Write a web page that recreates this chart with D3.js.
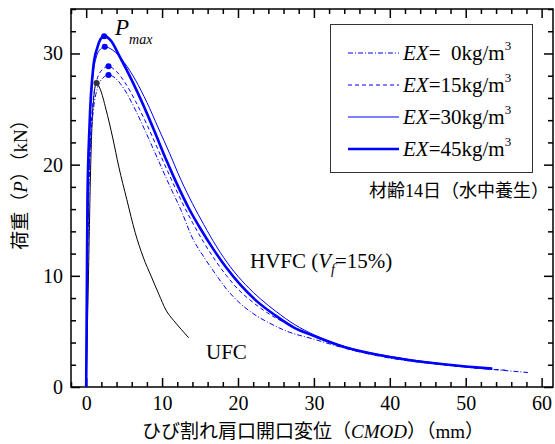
<!DOCTYPE html>
<html>
<head>
<meta charset="utf-8">
<script src="https://cdn.jsdelivr.net/npm/d3@7"></script>
<style>
  body { margin: 0; background: #fff; }
  svg { display: block; }
  .serif { font-family: "Liberation Serif", "Noto Sans CJK JP", serif; }
  .cjk { font-family: "Liberation Serif", "Noto Sans CJK JP", sans-serif; }
  .tick text { font-family: "Liberation Serif", serif; }
</style>
</head>
<body>
<div id="wrapper"></div>
<script>
// CMOD (mm), load P (kN)
const ex0 = [[0,0],[0.12,8],[0.3,16],[0.6,22],[0.96,25],[1.5,26.9],[2.2,27.8],[2.94,28.07],[3.8,27.8],[5,26.8],[6.5,24.9],[8,22.7],[9.5,20.4],[11,18.1],[12.5,15.9],[14,13.4],[15.5,11.7],[17,10.2],[18.5,8.8],[20,7.7],[22,6.6],[24,5.8],[26.5,5.0],[30,4.3],[34,3.5],[40,2.6],[45,2.15],[50,1.78],[54,1.55],[58.2,1.3]]
const ex15 = [[0,0],[0.12,8],[0.28,16],[0.55,22],[0.9,25.6],[1.4,27.6],[2.2,28.6],[2.94,28.85],[3.8,28.5],[5,27.5],[6.5,25.7],[8,23.6],[9.5,21.3],[11,19.0],[12.5,16.8],[14,14.8],[15.5,13.0],[17,11.4],[18.5,10.0],[20,8.8],[22,7.6],[24.5,6.4],[27,5.5],[30,4.55],[34,3.6],[40,2.7],[45,2.2],[50,1.8],[55.5,1.5]]
const ex30 = [[0,0],[0.1,8],[0.22,16],[0.45,23],[0.8,27.3],[1.3,29.6],[1.9,30.4],[2.45,30.6],[3.5,30.3],[5,29.2],[6.5,27.6],[8,25.6],[9.5,23.3],[11,21.0],[12.5,18.6],[14,16.5],[15.5,14.6],[17.2,12.6],[19,10.8],[21,9.2],[23,7.9],[25,6.8],[27.5,5.6],[30,4.7],[34,3.65],[40,2.75],[45,2.25],[50,1.85],[53.5,1.65]]
const ex45 = [[0,0],[0.08,8],[0.17,16.9],[0.44,23.5],[0.96,28.9],[1.5,30.6],[1.9,31.3],[2.37,31.56],[3.2,31.2],[4.5,29.6],[6,27.6],[7.5,25.4],[9,23.0],[10.5,20.5],[12,18.2],[13.5,16.1],[15,14.3],[16.75,12.4],[18.5,10.7],[20.3,9.2],[22.5,7.7],[25,6.4],[27.5,5.3],[30,4.6],[34,3.6],[40,2.7],[45,2.2],[50,1.85],[53.5,1.65]]
const ufc = [[0,0],[0.3,10],[0.6,20],[0.9,25.3],[1.36,27.35],[1.84,26.8],[2.6,25.0],[3.5,22.4],[4.3,19.8],[5.35,16.87],[6.45,13.9],[7.5,11.7],[8.6,9.9],[9.6,8.3],[10.5,6.93],[11.5,6.0],[12.5,5.2],[13.5,4.43]]

const legendLabels = ["= \u00a00kg/m", "=15kg/m", "=30kg/m", "=45kg/m"]
const xMajorTicks = [0, 10, 20, 30, 40, 50, 60]
const yMajorTicks = [0, 10, 20, 30]

function drawChart() {
  let dimensions = {
    width: 555,
    height: 444,
    margin: { top: 9, right: 2, bottom: 57, left: 71 },
  }
  dimensions.boundedWidth = dimensions.width - dimensions.margin.left - dimensions.margin.right
  dimensions.boundedHeight = dimensions.height - dimensions.margin.top - dimensions.margin.bottom

  const wrapper = d3.select("#wrapper")
    .append("svg")
      .attr("width", dimensions.width)
      .attr("height", dimensions.height)

  const bounds = wrapper.append("g")
    .attr("transform", `translate(${dimensions.margin.left},${dimensions.margin.top})`)

  const xScale = d3.scaleLinear()
    .domain([-2, 61.5])
    .range([0, dimensions.boundedWidth])
  const yScale = d3.scaleLinear()
    .domain([0, 34])
    .range([dimensions.boundedHeight, 0])

  const xMinor = d3.range(-2, 62, 2).filter(d => d % 10 != 0)
  const yMinor = d3.range(0, 35, 2).filter(d => d % 10 != 0)

  // axes, ticks pointing inwards on all four sides
  const addAxis = (axisFn, scale, major, minor, transform, labels) => {
    const g = bounds.append("g").attr("transform", transform)
    g.call(axisFn(scale).tickValues(minor).tickSize(-5).tickFormat(""))
    g.select(".domain").remove()
    const g2 = bounds.append("g").attr("transform", transform)
    g2.call(axisFn(scale).tickValues(major).tickSize(-9)
      .tickPadding(axisFn == d3.axisBottom ? 9 : 8)
      .tickFormat(labels ? d3.format("d") : ""))
    g2.select(".domain").remove()
    g2.attr("font-family", null).attr("font-size", null)
    ;[g, g2].forEach(s => s.selectAll("line").attr("stroke", "#000").attr("stroke-width", 1.5))
    g2.selectAll("text")
      .style("font-family", "'Liberation Serif', serif")
      .style("font-size", "20px")
      .attr("fill", "#000")
  }
  addAxis(d3.axisBottom, xScale, xMajorTicks, xMinor, `translate(0,${dimensions.boundedHeight})`, true)
  addAxis(d3.axisTop, xScale, xMajorTicks, xMinor, "translate(0,0)", false)
  addAxis(d3.axisLeft, yScale, yMajorTicks, yMinor, "translate(0,0)", true)
  addAxis(d3.axisRight, yScale, yMajorTicks, yMinor, `translate(${dimensions.boundedWidth},0)`, false)

  bounds.append("rect")
    .attr("width", dimensions.boundedWidth)
    .attr("height", dimensions.boundedHeight)
    .attr("fill", "none")
    .attr("stroke", "#000")
    .attr("stroke-width", 1.5)

  const lineGenerator = d3.line()
    .x(d => xScale(d[0]))
    .y(d => yScale(d[1]))
    .curve(d3.curveMonotoneX)

  const series = [
    { data: ufc, color: "#000", width: 1, dash: null, dot: "#333" },
    { data: ex0, color: "#0000ff", width: 1, dash: "5,2,1,2", dot: "#0000ff" },
    { data: ex15, color: "#0000ff", width: 1, dash: "4,3", dot: "#0000ff" },
    { data: ex30, color: "#0000ff", width: 1, dash: null, dot: "#0000ff" },
    { data: ex45, color: "#0000ff", width: 2.6, dash: null, dot: "#0000ff" },
  ]

  bounds.selectAll(".curve")
    .data(series)
    .enter().append("path")
      .attr("class", "curve")
      .attr("d", d => lineGenerator(d.data))
      .attr("fill", "none")
      .attr("stroke", d => d.color)
      .attr("stroke-width", d => d.width)
      .attr("stroke-dasharray", d => d.dash)

  // peak markers
  bounds.selectAll(".peak")
    .data(series)
    .enter().append("circle")
      .attr("class", "peak")
      .attr("cx", d => xScale(d.data[d3.maxIndex(d.data, p => p[1])][0]))
      .attr("cy", d => yScale(d3.max(d.data, p => p[1])))
      .attr("r", 3)
      .attr("fill", d => d.dot)

  // legend
  const legend = wrapper.append("g").attr("class", "serif")
  legend.append("rect")
    .attr("x", 330.5).attr("y", 24.5)
    .attr("width", 202).attr("height", 148)
    .attr("fill", "#fff")
    .attr("stroke", "#333")
    .attr("stroke-width", 1)
  const rows = legend.selectAll(".row")
    .data(series.slice(1))
    .enter().append("g")
      .attr("transform", (d, i) => `translate(0,${53 + i * 32})`)
  rows.append("line")
    .attr("x1", 348).attr("x2", 399)
    .attr("stroke", d => d.color)
    .attr("stroke-width", d => d.width)
    .attr("stroke-dasharray", d => d.dash)
  const rowText = rows.append("text")
    .attr("x", 403).attr("y", 7)
    .attr("font-size", 21)
  rowText.append("tspan").attr("font-style", "italic").text("EX")
  rowText.append("tspan").text((d, i) => legendLabels[i])
  rowText.append("tspan").attr("font-size", 13).attr("dy", -10).text("3")

  // annotations
  const pmax = wrapper.append("text").attr("class", "serif")
    .attr("x", 115).attr("y", 35)
    .attr("font-size", 23).attr("font-style", "italic")
  pmax.append("tspan").text("P")
  pmax.append("tspan").attr("font-size", 14).attr("dy", 9).text("max")

  wrapper.append("text").attr("class", "cjk")
    .attr("x", 369).attr("y", 197)
    .attr("font-size", 18)
    .text("材齢14日（水中養生）")

  const hvfc = wrapper.append("text").attr("class", "serif")
    .attr("x", 250).attr("y", 268)
    .attr("font-size", 21)
  hvfc.append("tspan").text("HVFC (")
  hvfc.append("tspan").attr("font-style", "italic").text("V")
  hvfc.append("tspan").attr("font-style", "italic").attr("font-size", 14).attr("dy", 6).text("f")
  hvfc.append("tspan").attr("dy", -6).text("=15%)")

  wrapper.append("text").attr("class", "serif")
    .attr("x", 206).attr("y", 359)
    .attr("font-size", 21)
    .text("UFC")

  const xTitle = wrapper.append("text").attr("class", "cjk")
    .attr("x", 313).attr("y", 438)
    .attr("text-anchor", "middle")
    .attr("font-size", 19)
  xTitle.append("tspan").text("ひび割れ肩口開口変位（")
  xTitle.append("tspan").attr("font-style", "italic").text("CMOD")
  xTitle.append("tspan").text("）（mm）")

  const yTitle = wrapper.append("text").attr("class", "cjk")
    .attr("transform", "translate(27,180) rotate(-90)")
    .attr("text-anchor", "middle")
    .attr("font-size", 19)
  yTitle.append("tspan").text("荷重（")
  yTitle.append("tspan").attr("font-style", "italic").text("P")
  yTitle.append("tspan").text("）（kN）")
}
drawChart()
</script>
</body>
</html>
